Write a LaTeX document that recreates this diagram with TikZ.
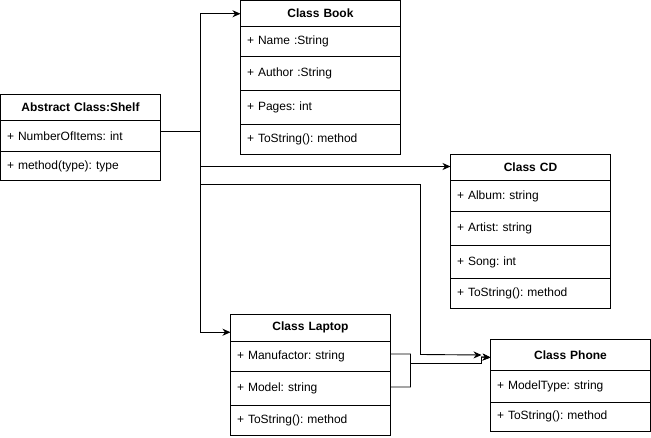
\documentclass[tikz,border=0pt]{standalone}
\usepackage{fontspec}
\setmainfont{Liberation Sans}
\usetikzlibrary{arrows.meta,positioning}
\tikzset{
  box/.style={draw, line width=0.9pt, anchor=north west, inner xsep=6.5pt, inner ysep=0pt, outer sep=0pt,
    text width=147pt, font=\fontsize{12}{14}\selectfont\frenchspacing},
  hdr/.style={box, align=center, font=\fontsize{12}{14}\selectfont\bfseries\frenchspacing},
  rowbox/.style={box, align=left},
  conn/.style={draw, line width=0.9pt},
  arr/.style={conn, -{Stealth[length=8pt,width=7pt,inset=2.5pt]}}
}
\begin{document}
\begin{tikzpicture}[x=1pt,y=-1pt]
\useasboundingbox (0,0) rectangle (651,438);
% Shelf
\node[hdr, minimum height=26pt] (shelf) at (0.5,94.5) {Abstract Class:Shelf};
\node[rowbox, minimum height=31pt] (shelf1) at (shelf.south west) {+ NumberOfItems: int};
\node[rowbox, minimum height=29pt] (shelf2) at (shelf1.south west) {+ method(type): type};
% Book
\node[hdr, minimum height=25.5pt] (book) at (240.5,0.5) {Class Book};
\node[rowbox, minimum height=30.5pt] (book1) at (book.south west) {+ Name :String};
\node[rowbox, minimum height=34pt] (book2) at (book1.south west) {+ Author :String};
\node[rowbox, minimum height=33.5pt] (book3) at (book2.south west) {+ Pages: int};
\node[rowbox, minimum height=30pt] (book4) at (book3.south west) {+ ToString(): method};
% CD
\node[hdr, minimum height=26pt] (cd) at (450.5,154.5) {Class CD};
\node[rowbox, minimum height=31pt] (cd1) at (cd.south west) {+ Album: string};
\node[rowbox, minimum height=34pt] (cd2) at (cd1.south west) {+ Artist: string};
\node[rowbox, minimum height=33pt] (cd3) at (cd2.south west) {+ Song: int};
\node[rowbox, minimum height=29.5pt] (cd4) at (cd3.south west) {+ ToString(): method};
% Laptop
\node[hdr, minimum height=26.5pt] (laptop) at (230.5,314.5) {Class Laptop};
\node[rowbox, minimum height=30pt] (laptop1) at (laptop.south west) {+ Manufactor: string};
\node[rowbox, minimum height=34pt] (laptop2) at (laptop1.south west) {+ Model: string};
\node[rowbox, minimum height=30pt] (laptop3) at (laptop2.south west) {+ ToString(): method};
% Phone
\node[hdr, minimum height=31pt] (phone) at (490.5,339.5) {Class Phone};
\node[rowbox, minimum height=31.5pt] (phone1) at (phone.south west) {+ ModelType: string};
\node[rowbox, minimum height=29pt] (phone2) at (phone1.south west) {+ ToString(): method};
% junctions
\coordinate (j) at (200.5,131.5);
\coordinate (k) at (200.5,184.5);
\coordinate (m) at (410.5,363.5);
% connectors
\draw[conn] (shelf1.east |- j) -- (j);
\draw[arr] (j) |- ([yshift=-0.5pt]book.west);
\draw[arr] (j) |- ([yshift=1pt]cd.west);
\draw[arr] (j) |- ([yshift=-4.5pt]laptop.west);
\draw[arr] (k) -- (420.5,184.5) -- (420.5,354.5) -- ([xshift=-9pt]phone.west);
\draw[arr] ([yshift=2pt]laptop1.east) -| (m) -- (481.5,363.5) -- (481.5,357) -- ([yshift=-2.5pt]phone.west);
\draw[arr] ([yshift=1pt]laptop2.east) -| (m) -- (481.5,363.5) -- (481.5,357) -- ([yshift=-2.5pt]phone.west);
\end{tikzpicture}
\end{document}
